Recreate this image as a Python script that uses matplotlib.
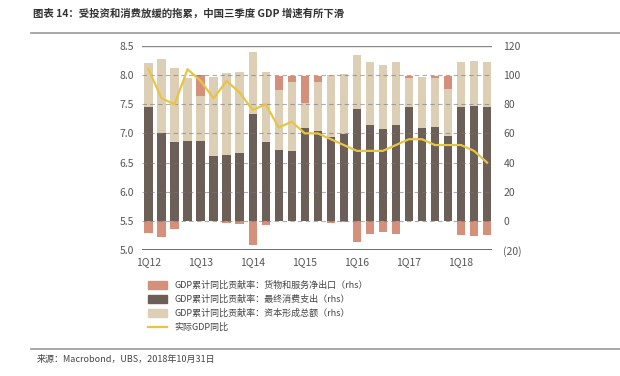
import numpy as np
import matplotlib.pyplot as plt
import matplotlib.lines as mlines
import matplotlib.patches as mpatches

plt.rcParams['font.family'] = ['Noto Sans CJK SC', 'DejaVu Sans']

# 季度
quarters = ['1Q12', '2Q12', '3Q12', '4Q12', '1Q13', '2Q13', '3Q13', '4Q13',
            '1Q14', '2Q14', '3Q14', '4Q14', '1Q15', '2Q15', '3Q15', '4Q15',
            '1Q16', '2Q16', '3Q16', '4Q16', '1Q17', '2Q17', '3Q17', '4Q17',
            '1Q18', '2Q18', '3Q18']
# 贡献率 (rhs, %)
consumption = [78, 60, 54.4, 54.5, 55, 44.5, 45, 46.5,
               73.5, 54, 48.7, 48.2, 63.5, 61.7, 57.8, 59.3,
               77, 65.4, 63.3, 65.8, 78.4, 63.4, 64.5, 58.3,
               77.8, 78.5, 78]
investment = [30, 51, 50.6, 43.5, 30.5, 54, 56.3, 55.3,
              42.5, 48, 41, 47, 17.6, 33.2, 42.3, 41.5,
              37, 43.4, 43.7, 43, 19.5, 35, 33.4, 32.3,
              30.8, 31.2, 31]
net_exports = [-8.5, -11.3, -5.8, 0, 14.2, 0, -1.7, -2,
               -16.5, -2.7, 9.7, 4.4, 18, 4.1, -1.2, -1,
               -14.3, -9.2, -7.4, -9.2, 1.6, 0, 1.6, 9,
               -9.6, -10.2, -9.7]
# 实际GDP同比 (lhs, %)
gdp = [8.1, 7.6, 7.5, 8.1, 7.9, 7.6, 7.9, 7.7,
       7.4, 7.5, 7.1, 7.2, 7.0, 7.0, 6.9, 6.8,
       6.7, 6.7, 6.7, 6.8, 6.9, 6.9, 6.8, 6.8,
       6.8, 6.7, 6.5]

c_net = '#d4907a'
c_con = '#6b5f57'
c_inv = '#dccfb6'
c_gdp = '#e6c445'

fig = plt.figure(figsize=(6.2, 3.76), dpi=100)
ax = fig.add_axes([0.229, 0.335, 0.565, 0.543])
ax2 = ax.twinx()

x = np.arange(len(quarters))
cons = np.array(consumption)
inv = np.array(investment)
net = np.array(net_exports)
w = 0.64

# 净出口: 正值堆在上面, 负值画在0以下
net_bottom = np.where(net >= 0, cons + inv, 0)
ax2.bar(x, cons, w, color=c_con, zorder=1)
ax2.bar(x, inv, w, bottom=cons, color=c_inv, zorder=1)
ax2.bar(x, net, w, bottom=net_bottom, color=c_net, zorder=1)

ax2.set_ylim(-20, 120)
ax2.set_yticks(range(-20, 121, 20))
ax2.set_yticklabels(['(20)'] + [str(v) for v in range(0, 121, 20)])

ax.set_ylim(5.0, 8.5)
ax.set_yticks(np.arange(5.0, 8.51, 0.5))
ax.set_yticklabels(['%.1f' % v for v in np.arange(5.0, 8.51, 0.5)])
ax.set_xlim(-0.5, 26.4)
ax.set_xticks(x[::4])
ax.set_xticklabels(quarters[::4])

# 虚线网格, 在柱子上面
for v in np.arange(5.5, 8.01, 0.5):
    ax2.axhline((v - 5.5) / 0.025, color='#777777', lw=0.8, ls=(0, (4, 3)),
                alpha=0.6, zorder=2)
ax2.axhline(120, color='#888888', lw=1.0, zorder=2)
ax2.axhline(-20, color='#555555', lw=1.2, zorder=2)

# GDP 线
ax2.plot(x, (np.array(gdp) - 5.5) / 0.025, color=c_gdp, lw=1.6, zorder=3)

for a in (ax, ax2):
    for s in a.spines.values():
        s.set_visible(False)
    a.tick_params(length=0, labelsize=7.5, colors='#555555')
ax.tick_params(axis='y', pad=6)
ax2.tick_params(axis='y', pad=8)
ax.tick_params(axis='x', pad=5)

# 图例
handles = [mpatches.Patch(color=c_net, label='GDP累计同比贡献率：货物和服务净出口（rhs）'),
           mpatches.Patch(color=c_con, label='GDP累计同比贡献率：最终消费支出（rhs）'),
           mpatches.Patch(color=c_inv, label='GDP累计同比贡献率：资本形成总额（rhs）'),
           mlines.Line2D([], [], color=c_gdp, lw=1.6, label='实际GDP同比')]
fig.legend(handles=handles, loc='upper left', bbox_to_anchor=(0.225, 0.275),
           frameon=False, fontsize=6.5, handlelength=2.2, handleheight=1.0,
           labelspacing=0.55, labelcolor='#444444')

# 标题和来源
fig.text(0.053, 0.965, '图表 14：受投资和消费放缓的拖累，中国三季度 GDP 增速有所下滑',
         fontsize=7.5, fontweight='bold', color='#333333', va='center')
fig.add_artist(mlines.Line2D([0.05, 1.0], [0.912, 0.912], color='#999999', lw=1.2))
fig.add_artist(mlines.Line2D([0.05, 1.0], [0.072, 0.072], color='#999999', lw=1.2))
fig.text(0.06, 0.043, '来源：Macrobond，UBS，2018年10月31日',
         fontsize=6.5, color='#444444', va='center')

fig.savefig('out.png', dpi=100)
